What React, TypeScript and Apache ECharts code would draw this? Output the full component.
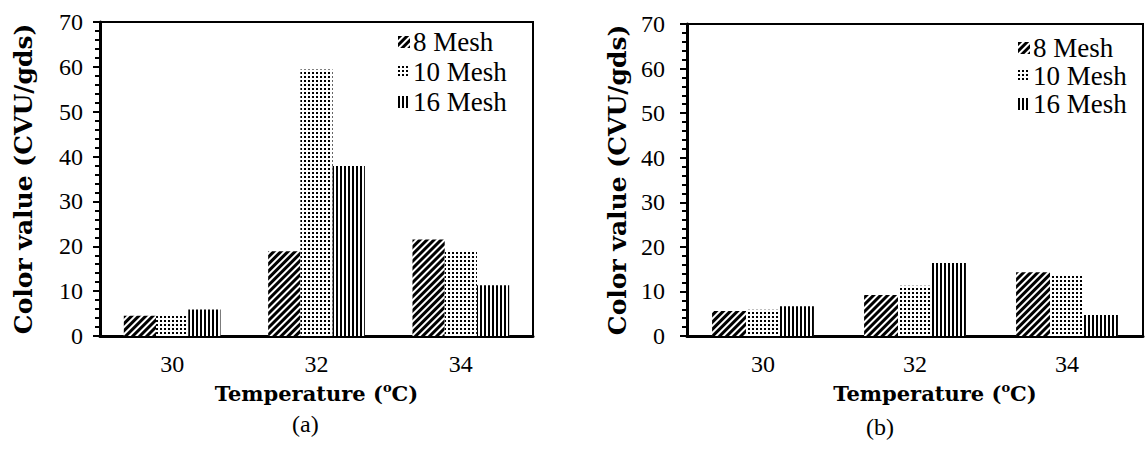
import React, { useEffect, useRef } from "react";
import * as echarts from "echarts";

const categories = ["30", "32", "34"];
const seriesNames = ["8 Mesh", "10 Mesh", "16 Mesh"];
const panelA8 = [4.5, 18.9, 21.5];
const panelA10 = [4.8, 59.4, 18.9];
const panelA16 = [5.9, 37.9, 11.3];
const panelB8 = [5.6, 9.2, 14.3];
const panelB10 = [5.9, 11.3, 13.7];
const panelB16 = [6.7, 16.4, 4.7];
const yMin = 0;
const yMax = 70;
const yInterval = 10;
const yTitle = "Color value (CVU/gds)";
const xTitle = "Temperature ({sup|o}C)";
const panelLabels = ["(a)", "(b)"];

const TITLE_FONT = "'DejaVu Serif', 'Liberation Serif', serif";
const FONT = "'Liberation Serif', 'Times New Roman', serif";

const decals = [
  { symbol: "rect", symbolSize: 1, dashArrayX: [1, 0], dashArrayY: [2.5, 2], rotation: -Math.PI / 4, color: "#000", backgroundColor: "#fff" },
  { symbol: "rect", symbolSize: 1, dashArrayX: [1.5, 2], dashArrayY: [1.5, 1.5], rotation: 0, color: "#000", backgroundColor: "#fff" },
  { symbol: "rect", symbolSize: 1, dashArrayX: [2, 1.6], dashArrayY: [1, 0], rotation: 0, color: "#000", backgroundColor: "#fff" },
];

export default function App() {
  const ref = useRef<HTMLDivElement>(null);
  useEffect(() => {
    if (!ref.current) return;
    const chart = echarts.init(ref.current, null, { renderer: "svg" });
    const dataA = [panelA8, panelA10, panelA16];
    const dataB = [panelB8, panelB10, panelB16];
    const makeSeries = (data: number[][], idx: number) =>
      data.map((d, i) => ({
        type: "bar",
        name: seriesNames[i],
        xAxisIndex: idx,
        yAxisIndex: idx,
        data: d,
        barGap: "0%",
        barCategoryGap: "33%",
        itemStyle: { color: "#fff", decal: decals[i] },
      }));
    const yAxis = (idx: number, gap: number, labelMargin: number) => ({
      type: "value",
      gridIndex: idx,
      min: yMin,
      max: yMax,
      interval: yInterval,
      name: yTitle,
      nameLocation: "middle",
      nameGap: gap,
      nameTextStyle: { fontFamily: TITLE_FONT, fontSize: 25, fontWeight: "bold", color: "#000" },
      axisLine: { show: true, lineStyle: { color: "#000", width: 3 } },
      axisTick: { show: true, length: 7, lineStyle: { color: "#000", width: 2 } },
      minorTick: { show: true, splitNumber: 5, length: 5, lineStyle: { color: "#000", width: 2 } },
      splitLine: { show: false },
      axisLabel: { fontFamily: FONT, fontSize: 24, color: "#000", margin: labelMargin },
    });
    const xAxis = (idx: number, pad: number) => ({
      type: "category",
      gridIndex: idx,
      data: categories,
      name: xTitle,
      nameLocation: "middle",
      nameGap: 43,
      nameTextStyle: {
        fontFamily: TITLE_FONT,
        fontSize: 21,
        fontWeight: "bold",
        color: "#000",
        lineHeight: 26,
        padding: [0, 0, 0, pad],
        rich: { sup: { fontFamily: TITLE_FONT, fontSize: 13, fontWeight: "bold", lineHeight: 14, verticalAlign: "top", color: "#000" } },
      },
      axisLine: { show: true, lineStyle: { color: "#000", width: 3 } },
      axisTick: { show: false },
      axisLabel: { fontFamily: FONT, fontSize: 24, color: "#000", margin: 16 },
    });
    const legend = (left: number, top: number, gap: number) => ({
      data: seriesNames,
      orient: "vertical",
      left,
      top,
      itemWidth: 12,
      itemHeight: 12,
      itemGap: gap,
      icon: "rect",
      padding: 0,
      textStyle: { fontFamily: FONT, fontSize: 27, lineHeight: 28, color: "#000", padding: [0, 0, 0, -2] },
    });
    chart.setOption({
      animation: false,
      aria: { enabled: true, decal: { show: true } },
      backgroundColor: "#fff",
      grid: [
        { left: 100, width: 433, top: 22, bottom: 116, show: true, borderColor: "#000", borderWidth: 2, backgroundColor: "transparent" },
        { left: 687, right: 2, top: 24, bottom: 116, show: true, borderColor: "#000", borderWidth: 2, backgroundColor: "transparent" },
      ],
      legend: [legend(398, 28, 2), legend(1018, 34, 0)],
      xAxis: [xAxis(0, 0), xAxis(1, 40)],
      yAxis: [yAxis(0, 64, 17), yAxis(1, 57, 22)],
      series: [...makeSeries(dataA, 0), ...makeSeries(dataB, 1)],
      graphic: [
        { type: "text", left: 292, top: 412, style: { text: panelLabels[0], font: `24px ${FONT}`, fill: "#000" } },
        { type: "text", left: 866, top: 415, style: { text: panelLabels[1], font: `24px ${FONT}`, fill: "#000" } },
      ],
    });
    return () => chart.dispose();
  }, []);
  return <div ref={ref} style={{ position: "fixed", left: 0, top: 0, width: 1145, height: 452 }} />;
}
